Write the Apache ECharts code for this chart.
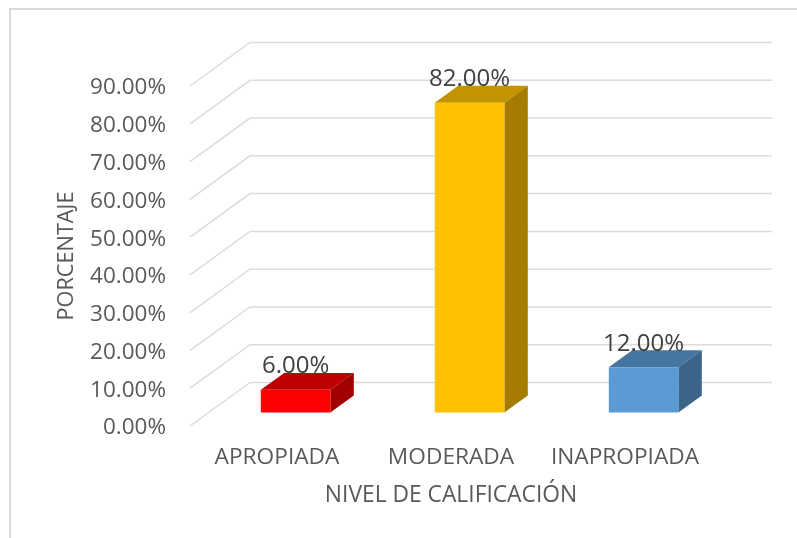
<!DOCTYPE html>
<html>
<head>
<meta charset="utf-8">
<style>
    html, body { margin: 0; padding: 0; background: #fff; }
    #main { width: 797px; height: 538px; }
</style>
<script src="https://cdn.jsdelivr.net/npm/echarts@6/dist/echarts.min.js"></script>
</head>
<body>
<div id="main"></div>
<script>
    const categories = ['APROPIADA', 'MODERADA', 'INAPROPIADA'];
    const values = [6, 82, 12];
    const yTicks = [0, 10, 20, 30, 40, 50, 60, 70, 80, 90];

    const frontColors = ['#ff0000', '#ffc000', '#5b9bd5'];
    const topColors = ['#c00000', '#c49400', '#46759f'];
    const sideColors = ['#a00000', '#a67c00', '#3b6489'];

    // oblique offset from the front plane to the back wall, in px
    const DEPTH_X = 60;
    const DEPTH_Y = 43.5;
    // where the bar sits between front plane and back wall
    const BAR_START = 0.31;
    const BAR_DEPTH = 0.39;

    const font = '"Open Sans", sans-serif';

    function renderWall(params, api) {
        const grid = params.coordSys;
        const y = api.coord([0, api.value(0)])[1];
        return {
            type: 'polyline',
            silent: true,
            shape: {
                points: [
                    [grid.x, y],
                    [grid.x + DEPTH_X, y - DEPTH_Y],
                    [grid.x + grid.width + DEPTH_X, y - DEPTH_Y]
                ]
            },
            style: { fill: null, stroke: '#dcdcdc', lineWidth: 1.5 }
        };
    }

    function renderBar(params, api) {
        const i = api.value(0);
        const top = api.coord([i, api.value(1)]);
        const base = api.coord([i, 0]);
        const w = api.size([1, 0])[0] * 0.4;
        const ox = DEPTH_X * BAR_START;
        const oy = DEPTH_Y * BAR_START;
        const dx = DEPTH_X * BAR_DEPTH;
        const dy = DEPTH_Y * BAR_DEPTH;
        const l = top[0] + ox - w / 2;
        const r = l + w;
        const t = top[1] - oy;
        const b = base[1] - oy;
        return {
            type: 'group',
            children: [
                {
                    type: 'polygon',
                    shape: { points: [[l, t], [r, t], [r + dx, t - dy], [l + dx, t - dy]] },
                    style: { fill: topColors[i] }
                },
                {
                    type: 'polygon',
                    shape: { points: [[r, t], [r + dx, t - dy], [r + dx, b - dy], [r, b]] },
                    style: { fill: sideColors[i] }
                },
                {
                    type: 'rect',
                    shape: { x: l, y: t, width: w, height: b - t },
                    style: { fill: frontColors[i] }
                },
                {
                    type: 'text',
                    style: {
                        x: (l + r) / 2,
                        y: t - 23.5,
                        text: api.value(1).toFixed(2) + '%',
                        fill: '#404040',
                        font: '24px ' + font,
                        align: 'center',
                        verticalAlign: 'middle'
                    }
                }
            ]
        };
    }

    const option = {
        backgroundColor: '#fff',
        animation: false,
        grid: { left: 190, top: 86, width: 522, height: 340 },
        xAxis: {
            type: 'category',
            data: categories,
            axisLine: { show: false },
            axisTick: { show: false },
            axisLabel: { color: '#595959', fontFamily: font, fontSize: 22.7, margin: 20, interval: 0 },
            name: 'NIVEL DE CALIFICACIÓN',
            nameLocation: 'middle',
            nameGap: 58,
            nameTextStyle: { color: '#595959', fontFamily: font, fontSize: 22.8 }
        },
        yAxis: {
            type: 'value',
            min: 0,
            max: 90,
            interval: 10,
            axisLine: { show: false },
            axisTick: { show: false },
            splitLine: { show: false },
            axisLabel: {
                margin: 24,
                formatter: v => '{t|' + v.toFixed(2) + '%}',
                rich: {
                    // nudges the digits down to sit level with the front gridline ends
                    t: { color: '#595959', fontFamily: font, fontSize: 22.5, padding: [4, 0, 0, 0] }
                }
            },
            name: 'PORCENTAJE',
            nameLocation: 'middle',
            nameGap: 112,
            nameTextStyle: { color: '#595959', fontFamily: font, fontSize: 21.7 }
        },
        graphic: [{
            type: 'polyline',
            silent: true,
            shape: { points: [[10, 538], [10, 9], [797, 9]] },
            style: { fill: null, stroke: '#d9d9d9', lineWidth: 2 }
        }],
        series: [
            {
                type: 'custom',
                z: 1,
                data: yTicks,
                encode: { y: 0 },
                renderItem: renderWall
            },
            {
                type: 'custom',
                z: 2,
                data: values.map((v, i) => [i, v]),
                encode: { x: 0, y: 1 },
                renderItem: renderBar
            }
        ]
    };

    echarts.init(document.getElementById('main')).setOption(option);
</script>
</body>
</html>
